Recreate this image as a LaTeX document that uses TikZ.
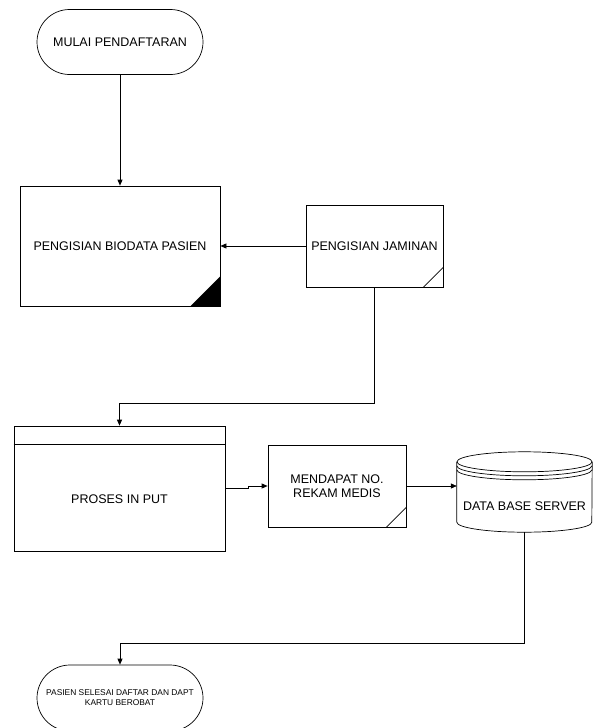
\documentclass[tikz,border=0pt]{standalone}
\usepackage{fontspec}
\setmainfont{Liberation Sans}
\usepackage{tikz}
\usetikzlibrary{arrows.meta}
\usetikzlibrary{calc}

\tikzset{
  flowline/.style={line width=0.7pt},
  arr/.style={flowline,-{Triangle[length=6pt,width=5pt]}},
  procbox/.style={draw,flowline,align=center,font=\fontsize{12.5}{14}\selectfont},
  termbox/.style={draw,flowline,align=center,rounded corners=32.5pt,minimum width=166pt,minimum height=65pt}
}

\begin{document}
\begin{tikzpicture}[x=1pt,y=1pt]
\useasboundingbox (0,0) rectangle (592,-728);

\node[termbox,font=\fontsize{12.5}{14}\selectfont] (mulai) at (120,-42) {MULAI PENDAFTARAN};
\node[procbox,minimum width=200pt,minimum height=120pt] (biodata) at (120,-246) {PENGISIAN BIODATA PASIEN};
\node[procbox,minimum width=137pt,minimum height=82pt] (jaminan) at (374.5,-246) {PENGISIAN JAMINAN};
\node[procbox,minimum width=211pt,minimum height=125pt] (proses) at (119.5,-488.5) {};
\node[font=\fontsize{12.5}{14}\selectfont] (prosestext) at ([yshift=-10.5pt]proses.center) {PROSES IN PUT};
\node[procbox,minimum width=138pt,minimum height=82pt] (rekam) at (337,-486) {MENDAPAT NO.\\REKAM MEDIS};
\node[minimum width=135pt,minimum height=80pt] (dbserver) at (524.5,-492) {};
\node[font=\fontsize{12.5}{14}\selectfont] (dbtext) at ([yshift=-14pt]dbserver.center) {DATA BASE SERVER};
\node[termbox,rounded corners=33pt,minimum height=66pt,font=\fontsize{8.4}{10}\selectfont] (selesai) at (120,-698) {PASIEN SELESAI DAFTAR DAN DAPT\\KARTU BEROBAT};

\fill (biodata.south east) -- ++(-30,0) -- ++(30,30) -- cycle;
\draw[flowline] ([xshift=-20pt]jaminan.south east) -- ([yshift=20pt]jaminan.south east);
\draw[flowline] ([xshift=-20pt]rekam.south east) -- ([yshift=20pt]rekam.south east);
\draw[flowline] ([yshift=-19pt]proses.north west) -- ([yshift=-19pt]proses.north east);

\draw[flowline] ([yshift=-10pt]dbserver.north west) -- ([yshift=10pt]dbserver.south west)
  arc[start angle=180,end angle=360,x radius=67.5pt,y radius=10pt] -- ([yshift=-10pt]dbserver.north east);
\draw[flowline] ([yshift=-10pt]dbserver.north) ellipse [x radius=67.5pt,y radius=10pt];
\foreach \d in {14,18}
  \draw[flowline] ([yshift=-\d pt]dbserver.north west) arc[start angle=180,end angle=360,x radius=67.5pt,y radius=10pt];

\draw[arr] (mulai.south) -- (biodata.north);
\draw[arr] (jaminan.west) -- (biodata.east);
\draw[arr] (jaminan.south) -- ++(0,-116) -| (proses.north);
\draw[arr] (proses.east) -- ++(23,0) |- (rekam.west);
\draw[arr] (rekam.east) -- (rekam.east -| dbserver.west);
\draw[arr] (dbserver.south) -- ++(0,-111) -| (selesai.north);
\end{tikzpicture}
\end{document}
